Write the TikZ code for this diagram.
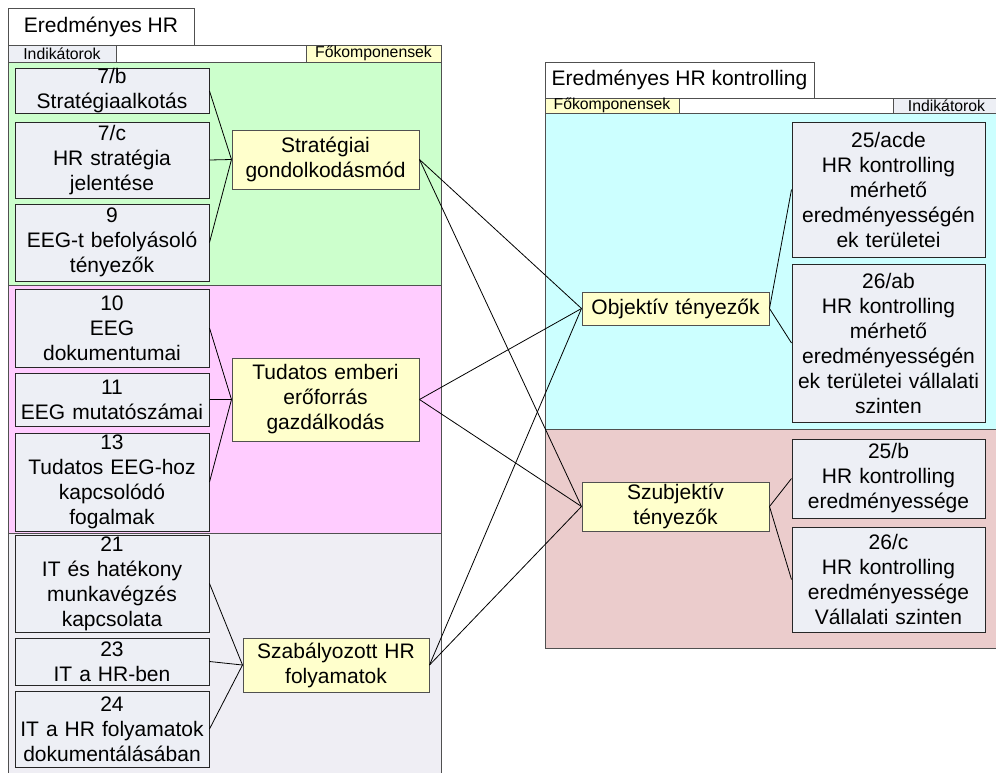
\documentclass[tikz,border=0pt]{standalone}
\usepackage{fontspec}
\setmainfont{Liberation Sans}
\definecolor{indfill}{HTML}{EDEFF5}
\definecolor{compfill}{HTML}{FFFFCC}
\definecolor{greenband}{HTML}{CCFFCC}
\definecolor{pinkband}{HTML}{FFCCFF}
\definecolor{grayband}{HTML}{EFEEF4}
\definecolor{cyanband}{HTML}{CCFFFF}
\definecolor{roseband}{HTML}{EBCCCC}
\definecolor{frame}{HTML}{505050}
\tikzset{
  band/.style={draw=frame, line width=1pt},
  tab/.style={draw=frame, fill=white, line width=1pt, inner sep=0pt,
    font=\fontsize{21}{25}\selectfont},
  hdr/.style={draw=frame, line width=0.8pt, inner sep=0pt,
    font=\fontsize{15.8}{17}\selectfont},
  indbox/.style={draw=black!85, fill=indfill, line width=1pt, inner sep=0pt,
    align=center, font=\fontsize{21}{25}\selectfont},
  compbox/.style={draw=frame, fill=compfill, line width=1pt, inner sep=0pt,
    align=center, font=\fontsize{21}{25}\selectfont},
  link/.style={draw=black, line width=0.8pt},
}
\begin{document}
\begin{tikzpicture}[x=1pt, y=-1pt]
\clip (0,0) rectangle (996,772);
\fill[white] (0,0) rectangle (996,772);

% ---------- left panel: Eredményes HR ----------
\node[tab, minimum width=186pt, minimum height=37pt] (ltab) at (101,26.5) {Eredményes HR};
\draw[band, fill=white] (8,45) rectangle (441,62);
\node[hdr, fill=indfill, minimum width=108pt, minimum height=17pt] (lind) at (62,53.5) {Indikátorok};
\node[hdr, fill=compfill, minimum width=135pt, minimum height=17pt] (lcomp) at (373.5,53.5) {Főkomponensek};
\draw[band, fill=greenband] (8,62) rectangle (441,285);
\draw[band, fill=pinkband] (8,285) rectangle (441,533);
\draw[band, fill=grayband] (8,533) rectangle (441,790);

% indicators
\node[indbox, minimum width=194pt, minimum height=44pt, text width=194pt] (i7b) at (112,91) {7/b\\Stratégiaalkotás};
\node[indbox, minimum width=194pt, minimum height=76pt, text width=194pt] (i7c) at (112,160) {7/c\\HR stratégia\\jelentése};
\node[indbox, minimum width=194pt, minimum height=77pt, text width=194pt] (i9) at (112,242.5) {9\\EEG-t befolyásoló\\tényezők};
\node[indbox, minimum width=194pt, minimum height=78pt, text width=194pt] (i10) at (112,328) {10\\EEG\\dokumentumai};
\node[indbox, minimum width=194pt, minimum height=53pt, text width=194pt] (i11) at (112,399.5) {11\\EEG mutatószámai};
\node[indbox, minimum width=194pt, minimum height=98pt, text width=194pt] (i13) at (112,482) {13\\Tudatos EEG-hoz\\kapcsolódó\\fogalmak};
\node[indbox, minimum width=194pt, minimum height=97pt, text width=194pt] (i21) at (112,583.5) {21\\IT és hatékony\\munkavégzés\\kapcsolata};
\node[indbox, minimum width=194pt, minimum height=47pt, text width=194pt] (i23) at (112,661.5) {23\\IT a HR-ben};
\node[indbox, minimum width=194pt, minimum height=76pt, text width=194pt] (i24) at (112,729) {24\\IT a HR folyamatok\\dokumentálásában};

% components
\node[compbox, minimum width=187pt, minimum height=59pt, text width=187pt] (strat) at (325.5,159.5) {Stratégiai\\gondolkodásmód};
\node[compbox, minimum width=187pt, minimum height=83pt, text width=187pt] (tud) at (325.5,399.5) {Tudatos emberi\\erőforrás\\gazdálkodás};
\node[compbox, minimum width=186pt, minimum height=54pt, text width=186pt] (szab) at (336,665) {Szabályozott HR\\folyamatok};

% ---------- right panel: Eredményes HR kontrolling ----------
\node[tab, minimum width=269pt, minimum height=36pt] (rtab) at (679.5,80) {Eredményes HR kontrolling};
\draw[band, fill=white] (545,98) rectangle (1000,113);
\node[hdr, fill=compfill, minimum width=134pt, minimum height=15pt] (rcomp) at (612,105.5) {Főkomponensek};
\node[hdr, fill=indfill, minimum width=107pt, minimum height=15pt] (rind) at (946.5,105.5) {Indikátorok};
\draw[band, fill=cyanband] (545,113) rectangle (1000,429);
\draw[band, fill=roseband] (545,429) rectangle (1000,648);

% components
\node[compbox, minimum width=187pt, minimum height=33pt, text width=187pt] (obj) at (675.5,308.5) {Objektív tényezők};
\node[compbox, minimum width=187pt, minimum height=49pt, text width=187pt] (subj) at (675.5,506.5) {Szubjektív\\tényezők};

% indicators
\node[indbox, minimum width=193pt, minimum height=135pt, text width=193pt] (i25acde) at (888.5,189.5) {25/acde\\HR kontrolling\\mérhető\\eredményességén\\ek területei};
\node[indbox, minimum width=193pt, minimum height=158pt, text width=193pt] (i26ab) at (888.5,343) {26/ab\\HR kontrolling\\mérhető\\eredményességén\\ek területei vállalati\\szinten};
\node[indbox, minimum width=193pt, minimum height=79pt, text width=193pt] (i25b) at (888.5,478.5) {25/b\\HR kontrolling\\eredményessége};
\node[indbox, minimum width=193pt, minimum height=105pt, text width=193pt] (i26c) at (888.5,579.5) {26/c\\HR kontrolling\\eredményessége\\Vállalati szinten};

% ---------- connectors ----------
\foreach \i in {i7b,i7c,i9} \draw[link] (\i.east) -- (strat.west);
\foreach \i in {i10,i11,i13} \draw[link] (\i.east) -- (tud.west);
\foreach \i in {i21,i23,i24} \draw[link] (\i.east) -- (szab.west);
\foreach \c in {strat,tud,szab} {
  \draw[link] (\c.east) -- (obj.west);
  \draw[link] (\c.east) -- (subj.west);
}
\draw[link] (obj.east) -- (i25acde.west);
\draw[link] (obj.east) -- (i26ab.west);
\draw[link] (subj.east) -- (i25b.west);
\draw[link] (subj.east) -- (i26c.west);
\end{tikzpicture}
\end{document}
